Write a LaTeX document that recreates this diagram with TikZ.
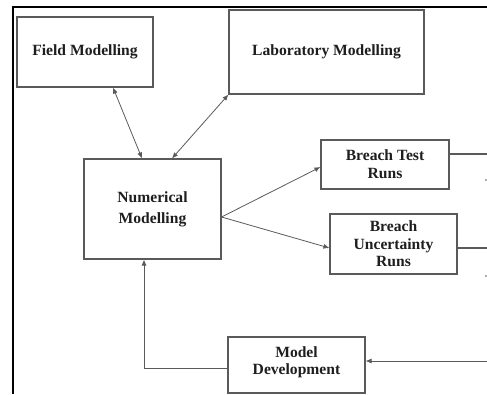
\documentclass[tikz,border=0pt]{standalone}
\usepackage{fontspec}
\setmainfont{Liberation Serif}
\usetikzlibrary{arrows.meta,calc}
\definecolor{boxline}{HTML}{5A5A5A}
\definecolor{txt}{HTML}{1E1E1E}
\tikzset{
  blk/.style={draw=boxline, line width=1.1pt, fill=white, inner sep=0pt,
    align=center, font=\bfseries\fontsize{15.6}{18}\selectfont, text=txt},
  arr/.style={draw=boxline, line width=0.8pt, -{Latex[length=6pt,width=5pt]}},
  darr/.style={draw=boxline, line width=0.8pt, {Latex[length=6pt,width=5pt]}-{Latex[length=6pt,width=5pt]}},
  ln/.style={draw=boxline, line width=1.1pt},
  frame/.style={draw=black, line width=1.6pt}
}
\begin{document}
\begin{tikzpicture}[x=1pt,y=-1pt]
\useasboundingbox (0,0) rectangle (487,394);
% outer frame (partly cropped)
\draw[frame] (13,394) -- (13,7) -- (487,7);
% boxes
\node[blk, minimum width=136pt, minimum height=70pt] (field) at (85,52) {Field Modelling};
\node[blk, minimum width=195pt, minimum height=84pt] (lab) at (326.5,52) {Laboratory Modelling};
\node[blk, minimum width=137pt, minimum height=100pt, font=\bfseries\fontsize{15.6}{21}\selectfont] (num) at (152.5,209) {Numerical\\Modelling};
\node[blk, minimum width=128pt, minimum height=49pt] (bt) at (385,164.5) {Breach Test\\Runs};
\node[blk, minimum width=127pt, minimum height=60pt, font=\bfseries\fontsize{15.6}{17.5}\selectfont] (bu) at (393.5,244) {Breach\\Uncertainty\\Runs};
\node[blk, minimum width=137pt, minimum height=56pt, text depth=9pt, font=\bfseries\fontsize{15.6}{16.5}\selectfont] (md) at (296.5,365) {Model\\Development};
% free ends at the cropped right edge
\coordinate (btout) at (487,154);
\coordinate (buout) at (487,248);
\coordinate (mdin) at (487,361);
% connectors
\draw[darr] ([xshift=28pt]field.south) -- ([xshift=-10.5pt]num.north);
\draw[darr] (lab.south west) -- ([xshift=19.5pt]num.north);
\draw[arr] ([yshift=-8pt]num.east) -- ([yshift=-2.5pt]bt.west);
\draw[arr] ([yshift=-8pt]num.east) -- ([yshift=-4pt]bu.west);
\draw[arr] ([yshift=-3pt]md.west) -| ([xshift=-8.5pt]num.south);
\draw[arr] (mdin) -- ([yshift=4pt]md.east);
\draw[ln] ([yshift=10.5pt]bt.east) -- (btout);
\draw[ln] ([yshift=-4pt]bu.east) -- (buout);
% tiny cut-off marks at the right edge
\fill[boxline] (486,180) circle (0.9pt);
\fill[boxline] (486,276) circle (0.9pt);
\end{tikzpicture}
\end{document}
